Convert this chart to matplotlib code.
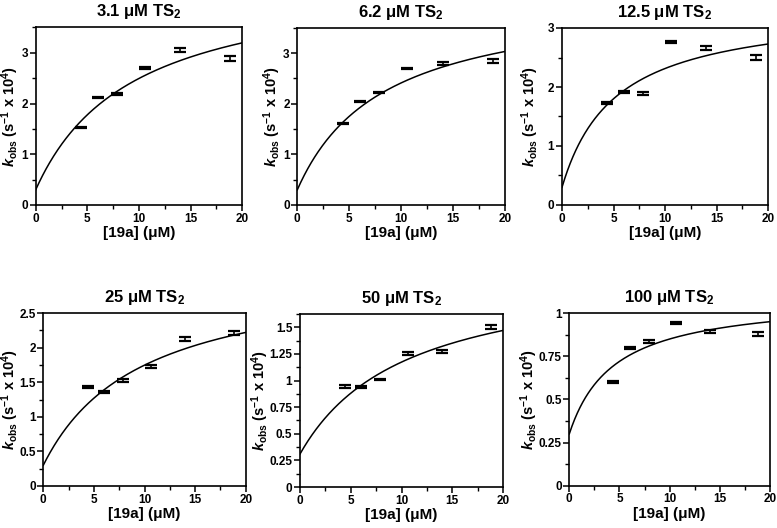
import numpy as np
import matplotlib
matplotlib.use("Agg")
import matplotlib.pyplot as plt
from matplotlib.ticker import MultipleLocator, FormatStrFormatter

plt.rcParams['font.family'] = 'Liberation Sans'
plt.rcParams['font.weight'] = 'bold'
plt.rcParams['mathtext.fontset'] = 'custom'
plt.rcParams['mathtext.rm'] = 'Liberation Sans:bold'
plt.rcParams['mathtext.bf'] = 'Liberation Sans:bold'
plt.rcParams['mathtext.it'] = 'Liberation Sans:italic:bold'

# substrate concentrations [19a] (uM)
conc = [4.4, 6.0, 7.9, 10.6, 14.0, 18.8]

titles = ['3.1 μM TS$_2$', '6.2 μM TS$_2$', '12.5 μM TS$_2$',
          '25 μM TS$_2$', '50 μM TS$_2$', '100 μM TS$_2$']

# k_obs (s^-1 x 10^4) per TS2 concentration
kobs_31 = [1.53, 2.12, 2.19, 2.71, 3.06, 2.88]
kobs_62 = [1.61, 2.04, 2.22, 2.69, 2.80, 2.84]
kobs_125 = [1.73, 1.92, 1.89, 2.76, 2.66, 2.50]
kobs_25 = [1.43, 1.36, 1.52, 1.73, 2.13, 2.21]
kobs_50 = [0.945, 0.94, 1.01, 1.255, 1.275, 1.505]
kobs_100 = [0.60, 0.795, 0.835, 0.94, 0.895, 0.88]

err_31 = [0.015, 0.015, 0.02, 0.02, 0.04, 0.05]
err_62 = [0.015, 0.015, 0.015, 0.015, 0.03, 0.04]
err_125 = [0.02, 0.015, 0.02, 0.02, 0.03, 0.04]
err_25 = [0.02, 0.02, 0.02, 0.02, 0.03, 0.03]
err_50 = [0.012, 0.01, 0.008, 0.012, 0.015, 0.02]
err_100 = [0.006, 0.006, 0.006, 0.005, 0.009, 0.012]

# hyperbolic fit parameters: k = k0 + kmax * x / (K + x)
fit_k0 = [0.30, 0.30, 0.30, 0.30, 0.31, 0.30]
fit_kmax = [4.26, 3.87, 3.06, 2.85, 1.77, 0.795]
fit_K = [9.4, 8.34, 5.2, 9.7, 10.5, 4.47]

kobs_all = [kobs_31, kobs_62, kobs_125, kobs_25, kobs_50, kobs_100]
err_all = [err_31, err_62, err_125, err_25, err_50, err_100]

ymax = [3.5, 3.5, 3.0, 2.5, 1.625, 1.0]
ymajor = [1, 1, 1, 0.5, 0.25, 0.25]
yminor = [0.5, 0.5, 0.5, 0.25, 0.125, 0.125]

# axes boxes in pixels: left, right, top, bottom
boxes = [(35.7, 242.3, 27.5, 205), (297.3, 505, 27.7, 205), (562, 768, 28, 205),
         (43.3, 245.7, 313, 486), (300, 503, 314, 487), (569.3, 770, 313, 485.7)]
# y label centre, pixels from left edge
ylab_x = [10, 272, 530, 10, 260, 529]

W, H = 777, 528
fig = plt.figure(figsize=(W / 100, H / 100), dpi=100, facecolor='white')

xfit = np.linspace(0, 20, 300)
for i in range(6):
    l, r, t, b = boxes[i]
    ax = fig.add_axes([l / W, 1 - b / H, (r - l) / W, (b - t) / H])
    yfit = fit_k0[i] + fit_kmax[i] * xfit / (fit_K[i] + xfit)
    ax.plot(xfit, yfit, color='black', lw=1.1)
    ax.errorbar(conc, kobs_all[i], yerr=err_all[i], fmt='none', ecolor='black',
                elinewidth=1.2, capsize=4, capthick=1.6)
    ax.set_xlim(0, 20)
    ax.set_ylim(0, ymax[i])
    ax.xaxis.set_major_locator(MultipleLocator(5))
    ax.xaxis.set_minor_locator(MultipleLocator(2.5))
    ax.yaxis.set_major_locator(MultipleLocator(ymajor[i]))
    ax.yaxis.set_minor_locator(MultipleLocator(yminor[i]))
    ax.yaxis.set_major_formatter(FormatStrFormatter('%g'))
    ax.tick_params(which='major', length=4, width=1.1, labelsize=8.5, pad=1.5)
    ax.tick_params(which='minor', length=3, width=1.0)
    for lab in ax.get_xticklabels() + ax.get_yticklabels():
        lab.set_fontweight('bold')
    for sp in ax.spines.values():
        sp.set_linewidth(1.2)
    ax.set_title(titles[i], fontsize=12, fontweight='bold', pad=8)
    ax.set_xlabel('[19a] (μM)', fontsize=11, fontweight='bold', labelpad=1)
    ax.set_ylabel(r'$\mathit{k}_{\mathrm{obs}}$ (s$^{-1}$ x 10$^{4}$)', fontsize=10.5,
                  fontweight='bold', va='center')
    ax.yaxis.set_label_coords((ylab_x[i] - l) / (r - l), 0.5)

fig.savefig('out.png', dpi=100, facecolor='white')
